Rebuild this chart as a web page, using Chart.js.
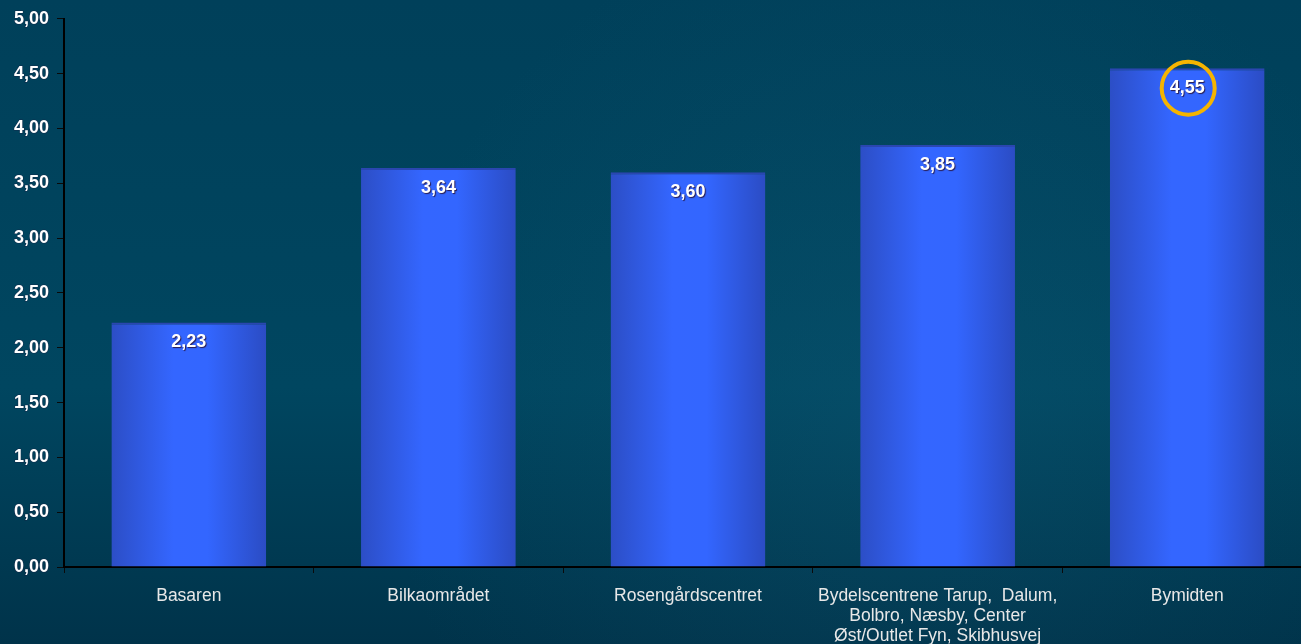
<!DOCTYPE html>
<html>
<head>
<meta charset="utf-8">
<script src="https://cdn.jsdelivr.net/npm/chart.js@4"></script>
<style>
  html, body { margin: 0; padding: 0; overflow: hidden; background: #003e58; }
  #wrap { width: 1320px; height: 644px; }
</style>
</head>
<body>
<div id="wrap"><canvas id="chart" width="1320" height="644"></canvas></div>
<script>
// data
const categories = [
    'Basaren',
    'Bilkaområdet',
    'Rosengårdscentret',
    ['Bydelscentrene Tarup,  Dalum,', 'Bolbro, Næsby, Center', 'Øst/Outlet Fyn, Skibhusvej'],
    'Bymidten'
];
const values = [2.23, 3.64, 3.60, 3.85, 4.55];
const highlightIndex = 4;

const fmt = v => v.toFixed(2).replace('.', ',');

// background gradient
const bgPlugin = {
    id: 'bg',
    beforeDraw(chart) {
        const c = chart.ctx;
        const g = c.createLinearGradient(0, 0, 0, chart.height);
        g.addColorStop(0, '#00405a');
        g.addColorStop(0.6, '#004660');
        g.addColorStop(1, '#00334a');
        c.save();
        c.fillStyle = g;
        c.fillRect(0, 0, chart.width, chart.height);
        const r = c.createRadialGradient(900, 420, 20, 900, 420, 520);
        r.addColorStop(0, 'rgba(30,110,140,0.18)');
        r.addColorStop(1, 'rgba(30,110,140,0)');
        c.fillStyle = r;
        c.fillRect(0, 0, chart.width, chart.height);
        c.restore();
    }
};

// value labels inside bars + ring around the highlighted one
const valuePlugin = {
    id: 'values',
    afterDatasetsDraw(chart) {
        const c = chart.ctx;
        const meta = chart.getDatasetMeta(0);
        c.save();
        c.font = 'bold 18px "Liberation Sans", Arial, sans-serif';
        c.textAlign = 'center';
        c.textBaseline = 'middle';
        meta.data.forEach((bar, i) => {
            const y = bar.y + 20;
            c.shadowColor = 'rgba(40,20,60,0.9)';
            c.shadowOffsetX = 1;
            c.shadowOffsetY = 1;
            c.shadowBlur = 1;
            c.fillStyle = '#ffffff';
            c.fillText(fmt(values[i]), bar.x, y);
            if (i === highlightIndex) {
                c.shadowColor = 'transparent';
                c.beginPath();
                c.arc(bar.x + 1, y, 26.5, 0, Math.PI * 2);
                c.lineWidth = 4;
                c.strokeStyle = '#f5b400';
                c.stroke();
            }
        });
        c.restore();
    }
};

function barFill(ctx) {
    const chart = ctx.chart;
    if (!chart.chartArea || ctx.dataIndex === undefined) return '#3366ff';
    const x = chart.scales.x.getPixelForValue(ctx.dataIndex);
    const half = (chart.scales.x.width / categories.length) * 0.62 / 2;
    const g = chart.ctx.createLinearGradient(x - half, 0, x + half, 0);
    g.addColorStop(0, '#2c4ec6');
    g.addColorStop(0.4, '#3466ff');
    g.addColorStop(0.62, '#3366ff');
    g.addColorStop(1, '#2b4cc4');
    return g;
}

const ctx = document.getElementById('chart').getContext('2d');
const chart = new Chart(ctx, {
    type: 'bar',
    data: {
        labels: categories,
        datasets: [{
            data: values,
            backgroundColor: barFill,
            borderColor: '#2a46b0',
            borderWidth: { top: 2, left: 0, right: 0, bottom: 0 },
            borderSkipped: false,
            categoryPercentage: 1,
            barPercentage: 0.62
        }]
    },
    options: {
        responsive: false,
        animation: false,
        layout: { padding: { top: 17, right: 8, left: 0, bottom: 0 } },
        plugins: { legend: { display: false }, tooltip: { enabled: false } },
        scales: {
            x: {
                offset: true,
                border: { color: '#000000', width: 2 },
                grid: { drawOnChartArea: false, color: '#0a0a0a', tickLength: 6, offset: true },
                ticks: {
                    color: '#e8e8e8',
                    padding: 13,
                    maxRotation: 0,
                    autoSkip: false,
                    font: { family: '"Liberation Sans", Arial, sans-serif', size: 17.5, lineHeight: 1.15 }
                },
                afterFit(scale) { scale.height = 77; }
            },
            y: {
                min: 0,
                max: 5,
                border: { color: '#000000', width: 2 },
                grid: { drawOnChartArea: false, color: '#0a0a0a', tickLength: 7 },
                ticks: {
                    stepSize: 0.5,
                    color: '#ffffff',
                    padding: 8,
                    textStrokeColor: 'rgba(30,20,60,0.5)',
                    textStrokeWidth: 1,
                    font: { family: '"Liberation Sans", Arial, sans-serif', size: 18, weight: 'bold' },
                    callback: v => fmt(v)
                },
                afterFit(scale) { scale.width = 64; }
            }
        }
    },
    plugins: [bgPlugin, valuePlugin]
});
</script>
</body>
</html>
